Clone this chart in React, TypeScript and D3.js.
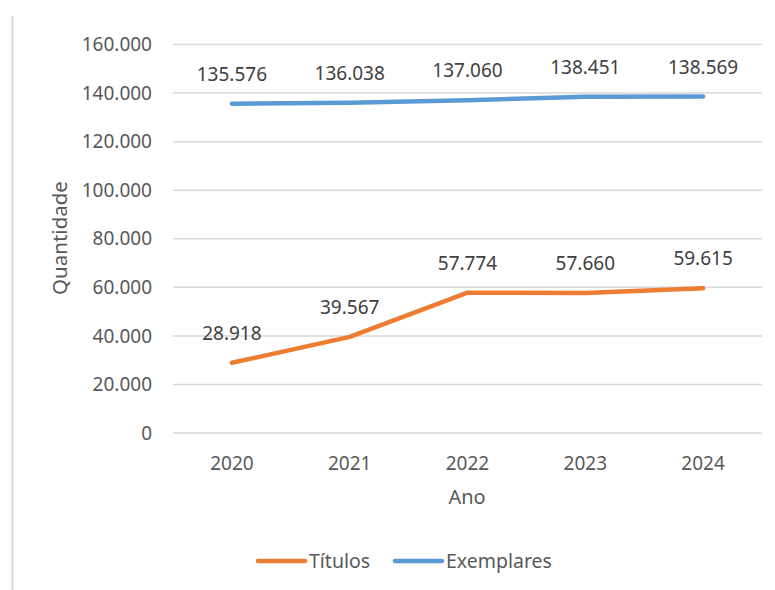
import React from "react";
import * as d3 from "d3";

const years = ["2020", "2021", "2022", "2023", "2024"];
const titulos = [28918, 39567, 57774, 57660, 59615];
const exemplares = [135576, 136038, 137060, 138451, 138569];
const yTicks = [0, 20000, 40000, 60000, 80000, 100000, 120000, 140000, 160000];

const W = 775;
const H = 590;
const FONT = "'Noto Sans', 'Open Sans', sans-serif";

const fmt = (v: number) => {
  const s = d3.format(",")(v);
  return s.replace(/,/g, ".");
};

export default function App() {
  const x = d3.scaleBand<string>().domain(years).range([173, 762]);
  const y = d3.scaleLinear().domain([0, 160000]).range([433, 44.5]);
  const cx = (d: string) => (x(d) as number) + x.bandwidth() / 2;
  const line = d3
    .line<number>()
    .x((_, i) => cx(years[i]))
    .y((v) => y(v));

  const series = [
    { name: "Títulos", values: titulos, color: "#ED7D31" },
    { name: "Exemplares", values: exemplares, color: "#5B9BD5" },
  ];

  return (
    <svg
      width={W}
      height={H}
      style={{ position: "absolute", left: 0, top: 0, background: "#fff" }}
      fontFamily={FONT}
    >
      <rect x={0} y={0} width={W} height={H} fill="#fff" />
      <line x1={12.5} x2={12.5} y1={16} y2={H} stroke="#d9d9d9" strokeWidth={2} />
      {yTicks.map((t) => (
        <g key={t}>
          <line x1={173} x2={762} y1={y(t)} y2={y(t)} stroke="#d9d9d9" strokeWidth={1.5} />
          <text
            x={152}
            y={y(t)}
            dy="0.35em"
            textAnchor="end"
            fontSize={19}
            fill="#595959"
          >
            {fmt(t)}
          </text>
        </g>
      ))}
      {years.map((yr) => (
        <text key={yr} x={cx(yr)} y={470} textAnchor="middle" fontSize={19} fill="#595959">
          {yr}
        </text>
      ))}
      <text x={467} y={504} textAnchor="middle" fontSize={20} fill="#595959">
        Ano
      </text>
      <text
        transform={`translate(67,238) rotate(-90)`}
        textAnchor="middle"
        fontSize={20.5}
        fill="#595959"
      >
        Quantidade
      </text>
      {series.map((s) => (
        <g key={s.name}>
          <path
            d={line(s.values) || ""}
            fill="none"
            stroke={s.color}
            strokeWidth={4.5}
            strokeLinecap="round"
            strokeLinejoin="round"
          />
          {s.values.map((v, i) => (
            <text
              key={i}
              x={cx(years[i])}
              y={y(v) - 23}
              textAnchor="middle"
              fontSize={19}
              fill="#404040"
            >
              {fmt(v)}
            </text>
          ))}
        </g>
      ))}
      {/* legend */}
      <g>
        <line x1={258} x2={305} y1={561} y2={561} stroke="#ED7D31" strokeWidth={4.5} strokeLinecap="round" />
        <text x={309} y={561} dy="0.35em" fontSize={19.5} fill="#595959">
          Títulos
        </text>
        <line x1={395} x2={442} y1={561} y2={561} stroke="#5B9BD5" strokeWidth={4.5} strokeLinecap="round" />
        <text x={446} y={561} dy="0.35em" fontSize={19.5} fill="#595959">
          Exemplares
        </text>
      </g>
    </svg>
  );
}
